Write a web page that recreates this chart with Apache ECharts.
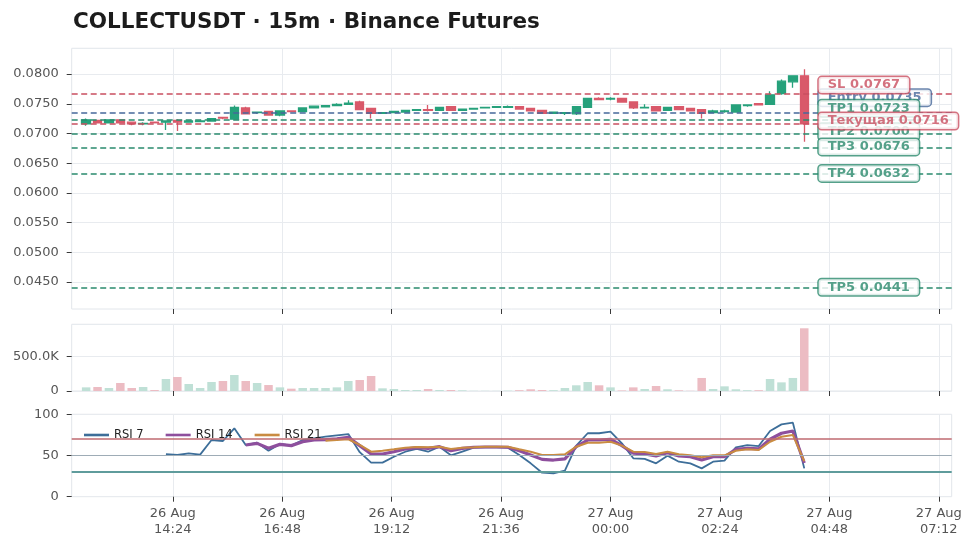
<!DOCTYPE html>
<html><head><meta charset="utf-8">
<script src="https://cdn.jsdelivr.net/npm/echarts@6/dist/echarts.min.js"></script>
<style>html,body{margin:0;padding:0;background:#fff}#c{width:973px;height:548px}</style>
</head><body><div id="c"></div><script>
// ---------- data ----------
const titleText = 'COLLECTUSDT · 15m · Binance Futures';
const times = [
 '2025-08-26 12:30','2025-08-26 12:45','2025-08-26 13:00','2025-08-26 13:15','2025-08-26 13:30','2025-08-26 13:45',
 '2025-08-26 14:00','2025-08-26 14:15','2025-08-26 14:30','2025-08-26 14:45','2025-08-26 15:00','2025-08-26 15:15',
 '2025-08-26 15:30','2025-08-26 15:45','2025-08-26 16:00','2025-08-26 16:15','2025-08-26 16:30','2025-08-26 16:45',
 '2025-08-26 17:00','2025-08-26 17:15','2025-08-26 17:30','2025-08-26 17:45','2025-08-26 18:00','2025-08-26 18:15',
 '2025-08-26 18:30','2025-08-26 18:45','2025-08-26 19:00','2025-08-26 19:15','2025-08-26 19:30','2025-08-26 19:45',
 '2025-08-26 20:00','2025-08-26 20:15','2025-08-26 20:30','2025-08-26 20:45','2025-08-26 21:00','2025-08-26 21:15',
 '2025-08-26 21:30','2025-08-26 21:45','2025-08-26 22:00','2025-08-26 22:15','2025-08-26 22:30','2025-08-26 22:45',
 '2025-08-26 23:00','2025-08-26 23:15','2025-08-26 23:30','2025-08-26 23:45','2025-08-27 00:00','2025-08-27 00:15',
 '2025-08-27 00:30','2025-08-27 00:45','2025-08-27 01:00','2025-08-27 01:15','2025-08-27 01:30','2025-08-27 01:45',
 '2025-08-27 02:00','2025-08-27 02:15','2025-08-27 02:30','2025-08-27 02:45','2025-08-27 03:00','2025-08-27 03:15',
 '2025-08-27 03:30','2025-08-27 03:45','2025-08-27 04:00','2025-08-27 04:15'
];
const opens = [
 .0716,.0722,.0718,.0723,.0719,.0716,.0719,.0719,.0722,.0719,.0720,.0721,.0727,.0724,.0743,.0735,
 .0737,.0731,.0738,.0737,.0743,.0745,.0747,.0749,.0753,.0742,.0734,.0735,.0736,.0739,.0740,.0739,
 .0745,.0739,.0741,.0743,.0744,.0744,.0745,.0742,.0739,.0734,.0734,.0733,.0744,.0759,.0758,.0759,
 .0753,.0743,.0745,.0739,.0745,.0742,.0740,.0735,.0737,.0736,.0747,.0750,.0749,.0767,.0787,.0797
];
const closes = [
 .0723,.0718,.0723,.0718,.0716,.0717,.0718,.0721,.0719,.0721,.0721,.0725,.0726,.0744,.0733,.0736,
 .0731,.0738,.0737,.0743,.0746,.0747,.0749,.0751,.0740,.0734,.0735,.0737,.0739,.0740,.0739,.0744,
 .0739,.0741,.0742,.0744,.0745,.0745,.0741,.0738,.0734,.0736,.0735,.0745,.0759,.0757,.0759,.0753,
 .0743,.0744,.0738,.0744,.0740,.0738,.0734,.0738,.0738,.0748,.0748,.0748,.0765,.0788,.0797,.0716
];
const highs = [
 .0725,.0723,.0724,.0724,.0720,.0719,.0719,.0722,.0724,.0722,.0722,.0726,.0728,.0747,.0745,.0737,
 .0738,.0739,.0738,.0744,.0747,.0748,.0751,.0756,.0755,.0743,.0736,.0738,.0740,.0741,.0748,.0745,
 .0746,.0742,.0743,.0745,.0746,.0747,.0746,.0743,.0740,.0737,.0736,.0746,.0760,.0761,.0761,.0760,
 .0754,.0749,.0746,.0745,.0746,.0743,.0741,.0740,.0740,.0749,.0749,.0751,.0771,.0791,.0798,.0808
];
const lows = [
 .0713,.0717,.0717,.0717,.0714,.0714,.0718,.0706,.0704,.0718,.0719,.0720,.0724,.0723,.0732,.0733,
 .0730,.0729,.0736,.0736,.0742,.0744,.0746,.0748,.0739,.0725,.0733,.0734,.0735,.0738,.0737,.0738,
 .0738,.0738,.0740,.0742,.0743,.0743,.0740,.0737,.0733,.0733,.0731,.0731,.0743,.0756,.0756,.0752,
 .0741,.0742,.0737,.0738,.0739,.0737,.0725,.0734,.0735,.0735,.0745,.0747,.0748,.0765,.0777,.0686
];
const volumes = [
 53000,58000,44000,117000,44000,58000,15000,175000,204000,102000,44000,131000,146000,233000,146000,117000,
 87000,53000,34000,44000,44000,44000,53000,146000,160000,219000,39000,29000,15000,15000,29000,15000,
 15000,10000,3000,3000,2000,5000,12000,25000,15000,12000,44000,83000,131000,83000,53000,8000,
 53000,29000,73000,25000,10000,3000,190000,29000,68000,25000,12000,12000,175000,126000,190000,914000
];
const rsi7 = [
 null,null,null,null,null,null,null,51.5,50.6,52.7,51.0,68.8,67.6,83.0,62.7,65.5,
 55.8,64.0,62.0,68.8,70.8,72.8,74.5,76.0,54.0,41.3,41.3,48.5,54.6,57.9,54.6,60.7,
 50.2,54.6,59.5,59.9,59.9,59.5,50.6,40.5,29.1,28.4,31.6,61.9,77.0,77.0,78.9,64.8,
 46.6,46.0,40.5,49.8,42.5,40.5,34.4,42.5,43.7,60.0,62.7,61.5,79.7,87.8,89.8,34.4
];
const rsi14 = [
 null,null,null,null,null,null,null,null,null,null,null,null,null,null,62.7,64.7,
 58.7,63.5,62.0,66.7,68.8,69.3,70.3,72.0,62.0,51.8,51.8,54.6,57.9,59.5,58.7,60.7,
 55.8,58.7,60.0,60.3,60.3,60.0,55.8,50.6,45.3,44.5,46.0,60.7,68.8,68.8,69.7,62.0,
 52.7,51.8,49.4,53.4,49.4,48.5,44.5,48.5,48.5,57.5,58.7,58.0,69.7,77.0,79.7,41.0
];
const rsi21 = [
 null,null,null,null,null,null,null,null,null,null,null,null,null,null,null,null,
 null,null,null,null,null,68.0,68.8,69.7,63.0,54.6,55.8,57.5,59.5,60.3,60.0,60.7,
 57.9,59.5,60.0,60.7,60.7,60.5,57.5,54.6,50.6,50.6,51.4,60.7,65.5,65.5,66.7,62.0,
 54.6,54.2,51.8,54.6,51.4,50.2,47.8,50.2,50.2,55.8,57.5,56.6,66.7,72.8,74.9,43.0
];
const levelNames  = ['Entry', 'SL', 'TP1', 'TP2', 'TP3', 'TP4', 'TP5', 'Текущая'];
const levelValues = [0.0735, 0.0767, 0.0723, 0.0700, 0.0676, 0.0632, 0.0441, 0.0716];
const rsiLevels = [70, 50, 30];
const timeTicks = ['2025-08-26 14:24','2025-08-26 16:48','2025-08-26 19:12','2025-08-26 21:36',
                   '2025-08-27 00:00','2025-08-27 02:24','2025-08-27 04:48','2025-08-27 07:12'];
const priceTicks = [0.045, 0.050, 0.055, 0.060, 0.065, 0.070, 0.075, 0.080];
const volumeTicks = [0, 500000];
const rsiTicks = [0, 50, 100];

// ---------- styling / layout ----------
const FONT = 'DejaVu Sans';
const UP = '#26a17b', DOWN = '#d9596a';
const UP_VOL = '#bfe0d6', DOWN_VOL = '#ecbcc3';
const levelColors = {Entry:'#46689a', SL:'#c94f60', 'Текущая':'#c94f60', TP:'#2a8a6d'};
const levelOffsets = {Entry:-15, SL:-8.6, TP1:-11.5, TP2:-1.6, TP3:-0.8, TP4:-0.4, TP5:0, 'Текущая':-3};
const X_MIN = '2025-08-26 12:11', X_MAX = '2025-08-27 07:29';
const LABEL_AT = '2025-08-27 04:34';
const MONTHS = ['Jan','Feb','Mar','Apr','May','Jun','Jul','Aug','Sep','Oct','Nov','Dec'];

function toMs(s){ const [d,t]=s.split(' '); const [Y,M,D]=d.split('-').map(Number); const [h,m]=t.split(':').map(Number); return Date.UTC(Y,M-1,D,h,m); }
const pad = n => String(n).padStart(2,'0');
const tms = times.map(toMs);
const tickMs = timeTicks.map(toMs);
function colorOf(name){ return levelColors[name] || levelColors.TP; }

const gridBase = {left:71.7, width:880, show:true, borderColor:'#e2e6eb', borderWidth:1, containLabel:false};
const grids = [
  Object.assign({top:48.3, height:260.7}, gridBase),
  Object.assign({top:324.3, height:66.7}, gridBase),
  Object.assign({top:414.3, height:82.4}, gridBase)
];
const splitStyle = {show:true, lineStyle:{color:'#e8ebef', width:1}};
const tickStyle = {show:true, length:5, lineStyle:{color:'#3a3a3a', width:1}};
const xAxes = [0,1,2].map(i => ({
  type:'value', gridIndex:i, min:toMs(X_MIN), max:toMs(X_MAX),
  axisLine:{show:false},
  axisTick:Object.assign({customValues:tickMs}, tickStyle),
  splitLine:splitStyle,
  axisLabel:{show:i===2, customValues:tickMs, color:'#555', fontFamily:FONT, fontSize:13, lineHeight:16, margin:9,
    formatter:v => { const d=new Date(v); return d.getUTCDate()+' '+MONTHS[d.getUTCMonth()]+'\n'+pad(d.getUTCHours())+':'+pad(d.getUTCMinutes()); }}
}));
const yLabel = {color:'#555', fontFamily:FONT, fontSize:13, margin:13};
const yAxes = [
  {type:'value', gridIndex:0, min:0.04044, max:0.08434, axisLine:{show:false},
   axisTick:Object.assign({customValues:priceTicks}, tickStyle), splitLine:splitStyle,
   axisLabel:Object.assign({customValues:priceTicks, formatter:v=>v.toFixed(4)}, yLabel)},
  {type:'value', gridIndex:1, min:0, max:972000, axisLine:{show:false},
   axisTick:Object.assign({customValues:volumeTicks}, tickStyle), splitLine:splitStyle,
   axisLabel:Object.assign({customValues:volumeTicks, formatter:v=> v===0 ? '0' : (v/1000).toFixed(1)+'K'}, yLabel)},
  {type:'value', gridIndex:2, min:0, max:100, axisLine:{show:false},
   axisTick:Object.assign({customValues:rsiTicks}, tickStyle), splitLine:splitStyle,
   axisLabel:Object.assign({customValues:rsiTicks}, yLabel)}
];

const candleData = tms.map((t,i)=>[t, opens[i], closes[i], lows[i], highs[i]]);
const volData = tms.map((t,i)=>({value:[t, volumes[i]], itemStyle:{color: closes[i]>=opens[i] ? UP_VOL : DOWN_VOL}}));
const rsiSeries = (arr) => tms.map((t,i)=>[t, arr[i]]);

const series = [
  { // level lines
    type:'line', xAxisIndex:0, yAxisIndex:0, data:[], z:1, silent:true,
    markLine:{symbol:'none', silent:true, animation:false, precision:6, label:{show:false},
      data: levelNames.map((n,i)=>({yAxis:levelValues[i], lineStyle:{color:colorOf(n), type:[6,3.5], width:1.6}}))}
  },
  {
    type:'candlestick', xAxisIndex:0, yAxisIndex:0, data:candleData, barWidth:9, z:3,
    encode:{x:0, y:[1,2,3,4]},
    itemStyle:{color:UP, color0:DOWN, borderColor:UP, borderColor0:DOWN, borderWidth:1.3}
  },
  { // level labels
    type:'scatter', xAxisIndex:0, yAxisIndex:0, symbolSize:0, z:10, silent:true,
    data: levelNames.map((n,i)=>({value:[toMs(LABEL_AT), levelValues[i]],
      label:{show:true, position:'right', distance:0, offset:[0, levelOffsets[n]],
        formatter: n+' '+levelValues[i].toFixed(4),
        color:colorOf(n), borderColor:colorOf(n), backgroundColor:'#fff', borderWidth:1.5, borderRadius:3,
        padding:[1,9,0,9], lineHeight:15, fontFamily:FONT, fontSize:13, fontWeight:'bold'}}))
  },
  {
    type:'bar', xAxisIndex:1, yAxisIndex:1, data:volData, barWidth:8.5
  },
  { // rsi reference lines
    type:'line', xAxisIndex:2, yAxisIndex:2, data:[], z:1, silent:true,
    markLine:{symbol:'none', silent:true, animation:false, precision:2, label:{show:false},
      data:[
        {yAxis:rsiLevels[0], lineStyle:{color:'#bf6a70', type:'solid', width:1.6}},
        {yAxis:rsiLevels[1], lineStyle:{color:'#9eacb6', type:'solid', width:1.1}},
        {yAxis:rsiLevels[2], lineStyle:{color:'#5f9c9c', type:'solid', width:2}}
      ]}
  },
  {name:'RSI 7', type:'line', xAxisIndex:2, yAxisIndex:2, data:rsiSeries(rsi7), showSymbol:false, z:3,
   lineStyle:{color:'#3d6e99', width:1.8}, itemStyle:{color:'#3d6e99'}},
  {name:'RSI 14', type:'line', xAxisIndex:2, yAxisIndex:2, data:rsiSeries(rsi14), showSymbol:false, z:3,
   lineStyle:{color:'#8e4f9d', width:3.2}, itemStyle:{color:'#8e4f9d'}},
  {name:'RSI 21', type:'line', xAxisIndex:2, yAxisIndex:2, data:rsiSeries(rsi21), showSymbol:false, z:3,
   lineStyle:{color:'#c98c42', width:2}, itemStyle:{color:'#c98c42'}}
];

const chart = echarts.init(document.getElementById('c'), null, {renderer:'canvas'});
chart.setOption({
  animation:false,
  backgroundColor:'#fff',
  title:{text:titleText, left:68, top:6, textStyle:{fontFamily:FONT, fontSize:21.5, fontWeight:'bold', color:'#1c1c1c'}},
  legend:{data:['RSI 7','RSI 14','RSI 21'], left:79, top:424, icon:'rect', itemWidth:25, itemHeight:2.6, itemGap:22,
    textStyle:{fontFamily:FONT, fontSize:11.5, color:'#222'}},
  grid:grids, xAxis:xAxes, yAxis:yAxes, series:series
});
</script></body></html>
